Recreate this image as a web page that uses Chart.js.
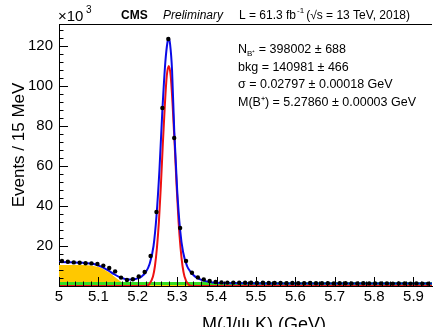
<!DOCTYPE html>
<html>
<head>
<meta charset="utf-8">
<script src="https://cdn.jsdelivr.net/npm/chart.js@4.4.1/dist/chart.umd.min.js"></script>
<style>
  html, body { margin: 0; padding: 0; background: #fff; overflow: hidden; }
  #wrap { width: 436px; height: 327px; }
</style>
</head>
<body>
<div id="wrap"><canvas id="c" width="436" height="327"></canvas></div>
<script>
// B+ -> J/psi K+ mass fit, values in units of 10^3 events / 15 MeV
const binLow = 5.0;
const binWidth = 0.015;
const counts = [
  12.5, 12.1, 11.8, 11.6, 11.4, 11.3, 11.0, 10.2, 9.0, 7.3,
  4.2, 3.0, 3.4, 4.8, 7.0, 15.0, 37.0, 89.0, 123.5, 74.0,
  29.0, 12.5, 6.6, 4.3, 3.3, 2.5, 2.0, 1.8,
  1.7, 1.7, 1.6, 1.6, 1.6, 1.5, 1.6, 1.5, 1.5, 1.5,
  1.4, 1.5, 1.4, 1.4, 1.5, 1.4, 1.4, 1.4, 1.3, 1.4,
  1.4, 1.3, 1.3, 1.4, 1.3, 1.3, 1.3, 1.3, 1.2, 1.3,
  1.3, 1.2, 1.3, 1.2, 1.2
];

// total fit (blue)
const totalX = [5.000, 5.020, 5.040, 5.060, 5.080, 5.095, 5.110, 5.125, 5.140, 5.155,
  5.170, 5.185, 5.200, 5.210, 5.220, 5.230, 5.240, 5.2475, 5.255, 5.2625,
  5.270, 5.2755, 5.2786, 5.282, 5.287, 5.2925, 5.300, 5.3075, 5.315, 5.325,
  5.335, 5.345, 5.360, 5.375, 5.390, 5.410, 5.450, 5.550, 5.700, 5.950];
const totalY = [12.0, 11.9, 11.8, 11.6, 11.2, 10.6, 9.4, 7.8, 5.9, 4.3,
  3.4, 3.2, 3.8, 4.8, 6.8, 11.0, 20.0, 35.0, 58.0, 88.0,
  112.0, 122.0, 124.0, 121.0, 108.0, 78.0, 48.0, 28.0, 17.0, 10.0,
  6.8, 4.8, 3.2, 2.3, 1.8, 1.5, 1.35, 1.3, 1.25, 1.2];

// signal component (red)
const signalX = [5.000, 5.220, 5.2286, 5.2386, 5.2436, 5.2486, 5.2536, 5.2586, 5.2636, 5.2686,
  5.2736, 5.2786, 5.2836, 5.2886, 5.2936, 5.2986, 5.3036, 5.3086, 5.3136, 5.3186,
  5.3286, 5.340, 5.950];
const signalY = [0, 0, 0.8, 4.8, 10, 19, 32, 50, 71, 90,
  105, 110, 105, 90, 71, 50, 32, 19, 10, 4.8,
  0.8, 0, 0];

// partially reconstructed B decays, stacked on combinatorial (yellow)
const partialX = [5.000, 5.050, 5.080, 5.095, 5.110, 5.125, 5.140, 5.150, 5.160, 5.170, 5.185, 5.950];
const partialY = [10.5, 10.5, 10.3, 9.8, 8.8, 7.0, 4.8, 3.2, 1.9, 1.3, 1.2, 1.2];

// combinatorial background (green)
const combX = [5.000, 5.950];
const combY = [1.3, 1.2];

const xTicks = [5, 5.1, 5.2, 5.3, 5.4, 5.5, 5.6, 5.7, 5.8, 5.9];
const yTicks = [20, 40, 60, 80, 100, 120];

const statLines = [
  ['N', 'B⁺', ' = 398002 ± 688'],
  ['bkg = 140981 ± 466'],
  ['σ = 0.02797 ± 0.00018 GeV'],
  ['M(B⁺) = 5.27860 ± 0.00003 GeV']
];

const pts = (xs, ys) => xs.map((x, i) => ({ x: x, y: ys[i] }));
const dataPts = counts.map((v, i) => ({ x: binLow + binWidth * (i + 0.5), y: v }));

const font = "'Liberation Sans', Arial, sans-serif";

// ROOT style frame: inner ticks, top line, header and labels
const rootFrame = {
  id: 'rootFrame',
  afterDraw(chart) {
    const ctx = chart.ctx;
    const xs = chart.scales.x, ys = chart.scales.y;
    const a = chart.chartArea;
    ctx.save();
    ctx.strokeStyle = '#000';
    ctx.lineWidth = 1;
    ctx.beginPath();
    ctx.moveTo(a.left, a.top + 0.5);
    ctx.lineTo(a.right, a.top + 0.5);
    for (let v = 0; v <= ys.max; v += 4) {
      const y = Math.round(ys.getPixelForValue(v)) + 0.5;
      const len = v % 20 === 0 ? 9 : 4.5;
      ctx.moveTo(a.left, y);
      ctx.lineTo(a.left + len, y);
    }
    for (let i = 0; binLow + i * 0.02 <= xs.max; i++) {
      const x = Math.round(xs.getPixelForValue(binLow + i * 0.02)) + 0.5;
      const len = i % 5 === 0 ? 9 : 4.5;
      ctx.moveTo(x, a.bottom);
      ctx.lineTo(x, a.bottom - len);
    }
    ctx.stroke();

    ctx.fillStyle = '#000';
    ctx.textBaseline = 'alphabetic';
    // x10^3
    ctx.font = '15px ' + font;
    ctx.fillText('×10', 58, 21);
    ctx.font = '10px ' + font;
    ctx.fillText('3', 86, 13);
    // header
    ctx.font = 'bold 12px ' + font;
    ctx.fillText('CMS', 121, 19);
    ctx.font = 'italic 12px ' + font;
    ctx.fillText('Preliminary', 163, 19);
    ctx.font = '12px ' + font;
    let x = 239;
    ctx.fillText('L = 61.3 fb', x, 19);
    x += ctx.measureText('L = 61.3 fb').width;
    ctx.font = '8px ' + font;
    ctx.fillText('-1', x + 1, 13);
    x += ctx.measureText('-1').width + 3;
    ctx.font = '12px ' + font;
    ctx.fillText('(√s = 13 TeV, 2018)', x, 19);

    // fit results
    let yy = 53;
    statLines.forEach(l => {
      let sx = 238;
      ctx.font = '12.5px ' + font;
      if (l.length === 3) {
        ctx.fillText(l[0], sx, yy);
        sx += ctx.measureText(l[0]).width;
        ctx.font = '8px ' + font;
        ctx.fillText(l[1], sx, yy + 3);
        sx += ctx.measureText(l[1]).width;
        ctx.font = '12.5px ' + font;
        ctx.fillText(l[2], sx, yy);
      } else {
        ctx.fillText(l[0], sx, yy);
      }
      yy += 17.7;
    });

    // axis titles
    ctx.font = '18px ' + font;
    ctx.textAlign = 'center';
    ctx.textBaseline = 'top';
    ctx.fillText('M(J/ψ K) (GeV)', 264, 316);
    ctx.font = '17px ' + font;
    ctx.translate(19, 145);
    ctx.rotate(-Math.PI / 2);
    ctx.textBaseline = 'middle';
    ctx.fillText('Events / 15 MeV', 0, 0);
    ctx.restore();
  }
};

const chart = new Chart(document.getElementById('c').getContext('2d'), {
  type: 'line',
  data: {
    datasets: [
      {
        label: 'data',
        data: dataPts,
        showLine: false,
        pointRadius: 2.2,
        pointBackgroundColor: '#000',
        pointBorderWidth: 0,
        order: 0,
      },
      {
        label: 'total',
        data: pts(totalX, totalY),
        borderColor: '#0a0ae6',
        borderWidth: 2,
        pointRadius: 0,
        cubicInterpolationMode: 'monotone',
        order: 1,
      },
      {
        label: 'signal',
        data: pts(signalX, signalY),
        borderColor: '#ee1111',
        borderWidth: 2,
        pointRadius: 0,
        cubicInterpolationMode: 'monotone',
        order: 2,
      },
      {
        label: 'comb',
        data: pts(combX, combY),
        borderColor: '#33dd22',
        borderWidth: 3,
        pointRadius: 0,
        order: 3,
      },
      {
        label: 'partial',
        data: pts(partialX, partialY),
        borderWidth: 0,
        borderColor: 'rgba(0,0,0,0)',
        backgroundColor: '#ffc800',
        fill: 'origin',
        pointRadius: 0,
        cubicInterpolationMode: 'monotone',
        order: 4,
      },
    ],
  },
  options: {
    responsive: false,
    animation: false,
    layout: { padding: { top: 24, left: 0, right: 0, bottom: 0 } },
    plugins: {
      legend: { display: false },
      tooltip: { enabled: false },
    },
    scales: {
      x: {
        type: 'linear',
        min: 5.0,
        max: 5.947,
        grid: { display: false, drawTicks: false },
        border: { color: '#000', width: 1 },
        afterBuildTicks: s => { s.ticks = xTicks.map(v => ({ value: v })); },
        afterFit: s => { s.height = 41; },
        ticks: {
          color: '#000',
          font: { family: font, size: 15 },
          padding: 2,
          maxRotation: 0,
          callback: v => String(+v.toFixed(1)),
        },
      },
      y: {
        min: 0,
        max: 131,
        grid: { display: false, drawTicks: false },
        border: { color: '#000', width: 1 },
        afterBuildTicks: s => { s.ticks = yTicks.map(v => ({ value: v })); },
        afterFit: s => { s.width = 59; },
        ticks: {
          color: '#000',
          font: { family: font, size: 15 },
          padding: 6,
        },
      },
    },
  },
  plugins: [rootFrame],
});
</script>
</body>
</html>
